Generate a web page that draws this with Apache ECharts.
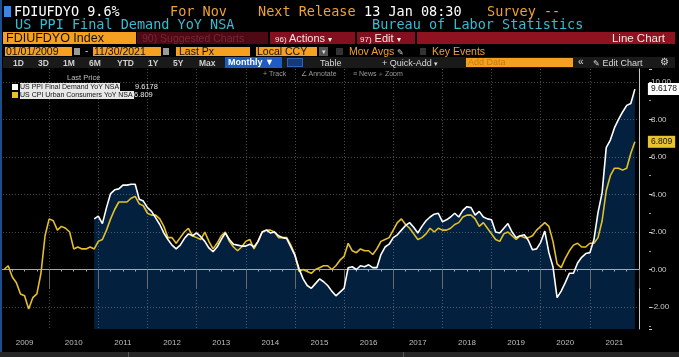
<!DOCTYPE html>
<html><head><meta charset="utf-8">
<script src="https://cdn.jsdelivr.net/npm/echarts@6/dist/echarts.min.js"></script>
<style>
html,body{margin:0;padding:0;background:#000;width:679px;height:357px;overflow:hidden}
#chart{position:absolute;left:0;top:0;width:679px;height:357px}
.a{position:absolute;white-space:nowrap}
.m{font-family:"DejaVu Sans Mono",monospace;font-size:13.5px;line-height:14px}
.s{font-family:"Liberation Sans",Arial,sans-serif}
</style></head>
<body>
<div id="chart"></div>
<div id="hdr">
  <div class="a" style="left:0;top:0;width:2px;height:352px;background:#1b4e8f"></div>
  <div class="a" style="left:4px;top:6px;width:7px;height:11px;background:#3a86e8"></div>
  <div class="a m" style="left:14px;top:4px;color:#fff">FDIUFDYO 9.6%</div>
  <div class="a m" style="left:170px;top:4px;color:#f0a232">For Nov</div>
  <div class="a m" style="left:258px;top:4px;color:#f0a232">Next Release</div>
  <div class="a m" style="left:364px;top:4px;color:#fff">13 Jan 08:30</div>
  <div class="a m" style="left:487px;top:4px;color:#f0a232">Survey --</div>
  <div class="a m" style="left:15px;top:17px;color:#38bccf">US PPI Final Demand YoY NSA</div>
  <div class="a m" style="left:372px;top:17px;color:#38bccf">Bureau of Labor Statistics</div>

  <div class="a s" style="left:3px;top:32px;width:133px;height:12px;background:#f5a021;color:#111;font-size:12.5px;line-height:12px;padding-left:3px;box-sizing:border-box">FDIUFDYO Index</div>
  <div class="a s" style="left:137px;top:32px;width:131px;height:12px;background:#4d0a14;color:#7d2534;font-size:10.5px;line-height:12px;padding-left:5px;box-sizing:border-box">90) Suggested Charts</div>
  <div class="a s" style="left:270px;top:32px;width:85px;height:12px;background:#840f1f;color:#f2e6e6;font-size:11px;line-height:12px;padding-left:5px;box-sizing:border-box"><span style="font-size:8px">96)</span> Actions <span style="font-size:8px">▾</span></div>
  <div class="a s" style="left:357px;top:32px;width:58px;height:12px;background:#840f1f;color:#f2e6e6;font-size:11px;line-height:12px;padding-left:3px;box-sizing:border-box"><span style="font-size:8px">97)</span> Edit <span style="font-size:8px">▾</span></div>
  <div class="a s" style="left:417px;top:32px;width:258px;height:12px;background:#8f1221;color:#f2e6e6;font-size:11.5px;line-height:12px;text-align:right;padding-right:10px;box-sizing:border-box">Line Chart</div>

  <div class="a s" style="left:5px;top:47px;width:67px;height:9px;background:#f5a021;color:#111;font-size:10.5px;line-height:9px;padding-left:1px;box-sizing:border-box">01/01/2009</div>
  <div class="a" style="left:74px;top:48px;width:6px;height:7px;background:#9a9a9a"></div>
  <div class="a s" style="left:85px;top:46px;color:#ccc;font-size:10px;line-height:10px">-</div>
  <div class="a s" style="left:93px;top:47px;width:68px;height:9px;background:#f5a021;color:#111;font-size:10.5px;line-height:9px;padding-left:1px;box-sizing:border-box">11/30/2021</div>
  <div class="a" style="left:163px;top:48px;width:6px;height:7px;background:#9a9a9a"></div>
  <div class="a s" style="left:176px;top:47px;width:74px;height:9px;background:#f5a021;color:#111;font-size:10.5px;line-height:9px;padding-left:3px;box-sizing:border-box">Last Px</div>
  <div class="a s" style="left:256px;top:47px;width:61px;height:9px;background:#f5a021;color:#111;font-size:10.5px;line-height:9px;padding-left:1px;box-sizing:border-box">Local CCY</div>
  <div class="a s" style="left:319px;top:47px;width:9px;height:9px;background:#555;color:#ddd;font-size:7px;line-height:9px;text-align:center">▾</div>
  <div class="a" style="left:336px;top:48px;width:7px;height:7px;background:#333"></div>
  <div class="a s" style="left:349px;top:46px;color:#f0a232;font-size:10.5px;line-height:10px">Mov Avgs <span style="color:#ccc;font-size:8px">✎</span></div>
  <div class="a" style="left:420px;top:48px;width:6px;height:7px;background:#333"></div>
  <div class="a s" style="left:432px;top:46px;color:#f0a232;font-size:10.5px;line-height:10px">Key Events</div>

  <div class="a" style="left:3px;top:57px;width:672px;height:11px;background:#1a1a1a"></div>
  <div class="a s" style="left:13px;top:58px;color:#cfcfcf;font-size:8.5px;line-height:10px;font-weight:bold">1D</div>
  <div class="a s" style="left:38px;top:58px;color:#cfcfcf;font-size:8.5px;line-height:10px;font-weight:bold">3D</div>
  <div class="a s" style="left:63px;top:58px;color:#cfcfcf;font-size:8.5px;line-height:10px;font-weight:bold">1M</div>
  <div class="a s" style="left:89px;top:58px;color:#cfcfcf;font-size:8.5px;line-height:10px;font-weight:bold">6M</div>
  <div class="a s" style="left:117px;top:58px;color:#cfcfcf;font-size:8.5px;line-height:10px;font-weight:bold">YTD</div>
  <div class="a s" style="left:148px;top:58px;color:#cfcfcf;font-size:8.5px;line-height:10px;font-weight:bold">1Y</div>
  <div class="a s" style="left:173px;top:58px;color:#cfcfcf;font-size:8.5px;line-height:10px;font-weight:bold">5Y</div>
  <div class="a s" style="left:199px;top:58px;color:#cfcfcf;font-size:8.5px;line-height:10px;font-weight:bold">Max</div>
  <div class="a s" style="left:225px;top:57px;width:57px;height:11px;background:#1f5cc0;color:#fff;font-size:9px;line-height:11px;font-weight:bold;padding-left:3px;box-sizing:border-box">Monthly ▼</div>
  <div class="a" style="left:287px;top:58px;width:16px;height:9px;background:#163a78;border:1px solid #2e63b8;box-sizing:border-box"></div>
  <div class="a s" style="left:320px;top:58px;color:#d8d8d8;font-size:9px;line-height:10px">Table</div>
  <div class="a s" style="left:382px;top:58px;color:#d8d8d8;font-size:9px;line-height:10px">+ Quick-Add <span style="font-size:7px">▾</span></div>
  <div class="a s" style="left:466px;top:58px;width:107px;height:9px;background:#f5a021;color:#c57a10;font-size:9px;line-height:9px;padding-left:2px;box-sizing:border-box">Add Data</div>
  <div class="a s" style="left:578px;top:57px;color:#d8d8d8;font-size:10px;line-height:10px">«</div>
  <div class="a s" style="left:593px;top:58px;color:#d8d8d8;font-size:9px;line-height:10px"><span style="font-size:8px">✎</span> Edit Chart</div>
  <div class="a s" style="left:660px;top:57px;color:#d8d8d8;font-size:10px;line-height:10px">⚙</div>

  <div class="a s" style="left:263px;top:69px;color:#9a9a9a;font-size:7px;line-height:9px">+ Track</div>
  <div class="a s" style="left:301px;top:69px;color:#9a9a9a;font-size:7px;line-height:9px">∠ Annotate</div>
  <div class="a s" style="left:353px;top:69px;color:#9a9a9a;font-size:7px;line-height:9px">≡ News</div>
  <div class="a s" style="left:379px;top:69px;color:#9a9a9a;font-size:7px;line-height:9px">⌕ Zoom</div>

  <div class="a s" style="left:67px;top:74px;color:#bdbdbd;font-size:7.5px;line-height:8px">Last Price</div>
  <div class="a" style="left:12px;top:84px;width:6px;height:6px;background:#fff"></div>
  <div class="a s" style="left:20px;top:83px;height:8px;background:#e8e8e8;color:#111;font-size:7px;line-height:8px;padding-right:1px">US PPI Final Demand YoY NSA</div>
  <div class="a s" style="left:135px;top:83px;color:#e8e8e8;font-size:7.5px;line-height:8px">9.6178</div>
  <div class="a" style="left:12px;top:92px;width:6px;height:6px;background:#e6c229"></div>
  <div class="a s" style="left:20px;top:91px;height:8px;background:#e8e8e8;color:#111;font-size:7px;line-height:8px;padding-right:1px">US CPI Urban Consumers YoY NSA</div>
  <div class="a s" style="left:134px;top:91px;color:#e8e8e8;font-size:7.5px;line-height:8px">6.809</div>

  <div class="a" style="left:0;top:352px;width:679px;height:5px;background:#262626"></div>
  <div class="a" style="left:128px;top:352px;width:1px;height:5px;background:#555"></div>
  <div class="a" style="left:403px;top:352px;width:1px;height:5px;background:#555"></div>
</div>
<script>
// Monthly categories (month-end points): index 0 = Dec 2008 ... index 156 = Dec 2021
const firstYear = 2009, lastYear = 2021;
const yearLabels = ['2009','2010','2011','2012','2013','2014','2015','2016','2017','2018','2019','2020','2021'];
// US CPI Urban Consumers YoY NSA, Jan 2009 .. Nov 2021
const cpiYoY = [
  0.0, 0.2, -0.4, -0.7, -1.3, -1.4, -2.1, -1.5, -1.3, -0.2, 1.8, 2.7,
  2.6, 2.1, 2.3, 2.2, 2.0, 1.1, 1.2, 1.1, 1.1, 1.2, 1.1, 1.5,
  1.6, 2.1, 2.7, 3.2, 3.6, 3.6, 3.6, 3.8, 3.9, 3.5, 3.4, 3.0,
  2.9, 2.9, 2.7, 2.3, 1.7, 1.7, 1.4, 1.7, 2.0, 2.2, 1.8, 1.7,
  1.6, 2.0, 1.5, 1.1, 1.4, 1.8, 2.0, 1.5, 1.2, 1.0, 1.2, 1.5,
  1.6, 1.1, 1.5, 2.0, 2.1, 2.1, 2.0, 1.7, 1.7, 1.7, 1.3, 0.8,
  -0.1, 0.0, -0.1, -0.2, 0.0, 0.1, 0.2, 0.2, 0.0, 0.2, 0.5, 0.7,
  1.4, 1.0, 0.9, 1.1, 1.0, 1.0, 0.8, 1.1, 1.5, 1.6, 1.7, 2.1,
  2.5, 2.7, 2.4, 2.2, 1.9, 1.6, 1.7, 1.9, 2.2, 2.0, 2.2, 2.1,
  2.1, 2.2, 2.4, 2.5, 2.8, 2.9, 2.9, 2.7, 2.3, 2.5, 2.2, 1.9,
  1.6, 1.5, 1.9, 2.0, 1.8, 1.6, 1.8, 1.7, 1.7, 1.8, 2.1, 2.3,
  2.5, 2.3, 1.5, 0.3, 0.1, 0.6, 1.0, 1.3, 1.4, 1.2, 1.2, 1.4,
  1.4, 1.7, 2.6, 4.2, 5.0, 5.4, 5.4, 5.3, 5.4, 6.2, 6.809
];
// US PPI Final Demand YoY NSA, Nov 2010 .. Nov 2021
const ppiStart = '2010-11';
const ppiYoY = [
  2.7, 2.85,
  2.45, 3.3, 4.05, 4.25, 4.3, 4.5, 4.5, 4.55, 4.55, 3.75, 3.65, 3.3,
  3.1, 2.75, 2.4, 1.95, 1.6, 1.3, 1.1, 1.3, 1.65, 1.9, 1.8, 1.95,
  1.75, 1.5, 1.15, 0.95, 1.2, 1.6, 1.95, 1.6, 1.35, 1.3, 1.25, 1.25,
  1.35, 1.2, 1.5, 2.0, 2.1, 1.95, 2.0, 1.8, 1.7, 1.65, 1.2, 0.75,
  0.05, -0.5, -0.85, -1.0, -0.75, -0.5, -0.65, -0.85, -1.15, -1.4, -1.2, -1.0,
  0.1, 0.15, 0.0, 0.2, 0.15, 0.25, 0.1, 0.1, 0.8, 1.2, 1.35, 1.7,
  1.85, 2.1, 2.35, 2.5, 2.25, 1.95, 2.3, 2.6, 2.8, 2.95, 3.0, 2.55,
  2.65, 2.8, 3.0, 2.8, 3.15, 3.35, 3.3, 2.9, 3.1, 2.8, 2.7, 2.65,
  2.0, 1.95, 2.2, 2.45, 2.0, 1.7, 1.8, 1.85, 1.55, 1.05, 1.1, 1.45,
  2.05, 0.9, 0.15, -1.5, -1.15, -0.7, -0.2, -0.2, 0.35, 0.65, 0.85, 0.9,
  1.6, 3.05, 4.1, 6.5, 6.9, 7.55, 8.0, 8.4, 8.75, 8.85, 9.6178
];
const seriesNames = ['US PPI Final Demand YoY NSA', 'US CPI Urban Consumers YoY NSA'];

// build category list and aligned data
const cats = ['2008-12'];
for (let y = firstYear; y <= lastYear; y++) for (let m = 1; m <= 12; m++) cats.push(y + '-' + String(m).padStart(2, '0'));
const cpiData = cats.map(() => null);
cpiYoY.forEach((v, i) => { cpiData[1 + i] = v; });
const ppiData = cats.map(() => null);
const p0 = cats.indexOf(ppiStart);
ppiYoY.forEach((v, i) => { ppiData[p0 + i] = v; });

const grid = 'rgba(190,190,190,0.38)';
const yMin = -3.17, yMax = 10.69;
const chart = echarts.init(document.getElementById('chart'));
chart.setOption({
  backgroundColor: '#000',
  animation: false,
  grid: { left: 0, right: 40, top: 69, bottom: 28 },
  xAxis: [
    { type: 'category', data: cats, boundaryGap: false, z: 2,
      axisLine: { show: true, lineStyle: { color: '#a8a8a8', width: 1 } },
      axisTick: { show: true, interval: (i) => i % 3 === 0 && i % 12 !== 0, length: 2, lineStyle: { color: '#a8a8a8' } },
      axisLabel: { show: false },
      splitLine: { show: true, interval: (i) => i % 12 === 0, lineStyle: { color: grid, type: [1, 2] } } },
    { type: 'category', data: cats, boundaryGap: false, position: 'bottom', z: 2,
      axisLine: { show: false },
      axisTick: { show: true, interval: (i) => i % 12 === 0, length: 19, lineStyle: { color: '#6a6a6a' } },
      axisLabel: { show: true, interval: (i) => i % 12 === 6, margin: 10, color: '#bdbdbd', fontSize: 8,
        fontFamily: 'Liberation Sans', formatter: (v, i) => yearLabels[Math.floor(i / 12)] },
      splitLine: { show: false } }
  ],
  yAxis: [
    { type: 'value', position: 'right', min: yMin, max: yMax, minInterval: 2, maxInterval: 2, offset: 10, z: 2,
      axisLine: { show: false },
      axisTick: { show: true, length: 3, lineStyle: { color: '#cfcfcf' } },
      minorTick: { show: true, splitNumber: 2, length: 2, lineStyle: { color: '#9a9a9a' } },
      axisLabel: { color: '#c8c8c8', fontSize: 8, margin: 2, fontFamily: 'Liberation Sans',
        formatter: (v) => Math.abs(v - Math.round(v)) < 1e-6 ? v.toFixed(2) : '' },
      splitLine: { show: true, showMinLine: false, showMaxLine: false, lineStyle: { color: grid, type: [1, 2] } } },
    { type: 'value', position: 'right', min: yMin, max: yMax, offset: 0, z: 2,
      axisLine: { show: true, lineStyle: { color: '#c8c8c8' } },
      axisTick: { show: false }, axisLabel: { show: false }, splitLine: { show: false } }
  ],
  series: [
    { name: seriesNames[0] + ' area', type: 'line', data: ppiData, symbol: 'none', z: 1, silent: true,
      lineStyle: { width: 0 }, areaStyle: { color: '#03203f', opacity: 1, origin: 'start' } },
    { name: seriesNames[1], type: 'line', data: cpiData, symbol: 'none', z: 3,
      lineStyle: { color: '#e3c02a', width: 1.6 },
      endLabel: { show: true, distance: 13, formatter: (p) => String(p.value), backgroundColor: '#e8c42c',
        color: '#111', fontSize: 8.5, fontFamily: 'Liberation Sans', padding: [2, 3, 1, 3] } },
    { name: seriesNames[0], type: 'line', data: ppiData, symbol: 'none', z: 4,
      lineStyle: { color: '#ffffff', width: 1.6 },
      endLabel: { show: true, distance: 13, formatter: (p) => String(p.value), backgroundColor: '#ffffff',
        color: '#111', fontSize: 8.5, fontFamily: 'Liberation Sans', padding: [2, 3, 1, 3] } }
  ]
});
</script>
</body></html>
